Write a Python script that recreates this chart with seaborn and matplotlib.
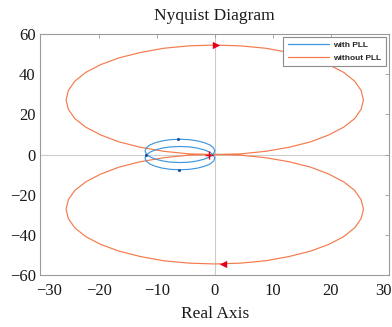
import numpy as np
import pandas as pd
import matplotlib
matplotlib.use("Agg")
import matplotlib.pyplot as plt
from matplotlib.lines import Line2D
from matplotlib.transforms import ScaledTranslation
import seaborn as sns

# ---- data ----
# "without PLL": upper loop (origin -> left -> top -> right -> origin)
orange_up_re = [0.7, 0.0, -4.4, -8.8, -12.8, -16.5, -19.6, -22.2, -24.1, -25.2, -25.6, -25.2, -24.1,
                -22.2, -19.6, -16.5, -12.8, -8.8, -4.4, 0.0, 4.4, 8.8, 12.8, 16.5, 19.6, 22.2,
                24.1, 25.2, 25.6, 25.2, 24.1, 22.2, 19.6, 16.5, 12.8, 8.8, 4.4, 0.0]
orange_up_im = [0.0, 0.0, 0.3, 1.6, 3.6, 6.3, 9.7, 13.6, 17.9, 22.5, 27.2, 31.9, 36.5,
                40.9, 44.8, 48.1, 50.8, 52.9, 54.1, 54.5, 54.1, 52.9, 50.8, 48.1, 44.8, 40.9,
                36.5, 31.9, 27.2, 22.5, 17.9, 13.6, 9.7, 6.3, 3.6, 1.6, 0.3, 0.0]
# "without PLL": lower loop (origin -> right -> bottom -> left -> origin)
orange_lo_re = [0.0, 4.4, 8.8, 12.8, 16.5, 19.6, 22.2, 24.1, 25.2, 25.6, 25.2, 24.1,
                22.2, 19.6, 16.5, 12.8, 8.8, 4.4, 0.0, -4.4, -8.8, -12.8, -16.5, -19.6, -22.2,
                -24.1, -25.2, -25.6, -25.2, -24.1, -22.2, -19.6, -16.5, -12.8, -8.8, -4.4, 0.0, 0.7]
orange_lo_im = [0.0, -0.3, -1.6, -3.6, -6.3, -9.7, -13.6, -17.9, -22.5, -27.2, -31.9, -36.5,
                -40.9, -44.8, -48.1, -50.8, -52.9, -54.1, -54.5, -54.1, -52.9, -50.8, -48.1, -44.8, -40.9,
                -36.5, -31.9, -27.2, -22.5, -17.9, -13.6, -9.7, -6.3, -3.6, -1.6, -0.3, 0.0, 0.0]

# "with PLL": two small loops
blue_up_re = [0.0, -0.2, -0.8, -1.8, -3.0, -4.4, -6.0, -7.6, -9.0, -10.2, -11.2, -11.8, -12.0,
              -11.8, -11.2, -10.2, -9.0, -7.6, -6.0, -4.4, -3.0, -1.8, -0.8, -0.2, 0.0]
blue_up_im = [1.8, 3.3, 4.7, 5.9, 6.8, 7.4, 7.6, 7.4, 6.8, 5.9, 4.7, 3.3, 1.8,
              0.3, -1.1, -2.3, -3.2, -3.8, -4.0, -3.8, -3.2, -2.3, -1.1, 0.3, 1.8]
blue_lo_re = [0.0, -0.2, -0.8, -1.8, -3.0, -4.4, -6.0, -7.6, -9.0, -10.2, -11.2, -11.8, -12.0,
              -11.8, -11.2, -10.2, -9.0, -7.6, -6.0, -4.4, -3.0, -1.8, -0.8, -0.2, 0.0]
blue_lo_im = [-1.8, -3.3, -4.7, -5.9, -6.8, -7.4, -7.6, -7.4, -6.8, -5.9, -4.7, -3.3, -1.8,
              -0.3, 1.1, 2.3, 3.2, 3.8, 4.0, 3.8, 3.2, 2.3, 1.1, -0.3, -1.8]

blue_arrow_re = [-6.3, -6.1, -11.9]
blue_arrow_im = [7.6, -7.8, 0.0]
orange_arrow_re = [0.3, 1.5]
orange_arrow_im = [54.5, -54.5]
critical_re = [-1.0]
critical_im = [0.0]

x_ticks = [-30, -20, -10, 0, 10, 20, 30]
y_ticks = [-60, -40, -20, 0, 20, 40, 60]
series_names = ["with PLL", "without PLL"]

BLUE = "#4096dc"
ORANGE = "#f47a4c"
RED = "#e3001b"

# ---- figure ----
sns.set_theme(style="white")
plt.rcParams["font.family"] = ["Liberation Serif", "DejaVu Serif"]
plt.rcParams["axes.unicode_minus"] = True

fig = plt.figure(figsize=(3.92, 3.27), dpi=100)
ax = fig.add_axes([0.1033, 0.159, 0.889, 0.737])

ax.axhline(0, color="#cccccc", lw=0.8, zorder=0)
ax.axvline(0, color="#cccccc", lw=0.8, zorder=0)

blue_df = pd.DataFrame({
    "re": blue_up_re + blue_lo_re,
    "im": blue_up_im + blue_lo_im,
    "loop": [0] * len(blue_up_re) + [1] * len(blue_lo_re),
})
orange_df = pd.DataFrame({"re": orange_up_re + orange_lo_re,
                          "im": orange_up_im + orange_lo_im})

sns.lineplot(data=orange_df, x="re", y="im", sort=False, estimator=None,
             color=ORANGE, lw=0.85, ax=ax, legend=False)
sns.lineplot(data=blue_df, x="re", y="im", units="loop", sort=False, estimator=None,
             color=BLUE, lw=0.85, ax=ax, legend=False)

sns.scatterplot(x=blue_arrow_re, y=blue_arrow_im, color="#1d4f9e", s=5,
                linewidth=0, ax=ax, zorder=5)
sns.scatterplot(x=orange_arrow_re[:1], y=orange_arrow_im[:1], marker=">", color=RED,
                s=28, linewidth=0, ax=ax, zorder=5)
sns.scatterplot(x=orange_arrow_re[1:], y=orange_arrow_im[1:], marker="<", color=RED,
                s=28, linewidth=0, ax=ax, zorder=5)
sns.scatterplot(x=critical_re, y=critical_im, marker="+", color=RED,
                s=28, linewidth=1.0, ax=ax, zorder=6)

ax.set_xlim(-30, 30)
ax.set_ylim(-60, 60)
ax.set_xticks(x_ticks)
ax.set_yticks(y_ticks)
ax.tick_params(axis="both", direction="in", length=3, width=0.6, color="#999999",
               labelcolor="#1a1a1a", top=True, right=True, labelsize=12)
ax.tick_params(axis="x", pad=6)
ax.tick_params(axis="y", pad=3.5)
for s in ax.spines.values():
    s.set_color("#9a9a9a")
    s.set_linewidth(0.8)

# end labels sit slightly inward in the reference
xl = ax.get_xticklabels()
xl[0].set_transform(xl[0].get_transform() + ScaledTranslation(9 / 100, 0, fig.dpi_scale_trans))
xl[-1].set_transform(xl[-1].get_transform() + ScaledTranslation(-6 / 100, 0, fig.dpi_scale_trans))

ax.set_title("Nyquist Diagram", fontsize=12.5, color="#1a1a1a", pad=10)
ax.set_xlabel("Real Axis", fontsize=12.5, color="#1a1a1a", labelpad=5)
ax.set_ylabel("")

handles = [Line2D([], [], color=BLUE, lw=0.9), Line2D([], [], color=ORANGE, lw=0.9)]
leg = ax.legend(handles, series_names, loc="upper right",
                prop={"family": "Liberation Sans", "size": 6, "weight": "bold"},
                frameon=True, fancybox=False, framealpha=1, edgecolor="#8c8c8c",
                handlelength=5.0, handletextpad=0.5, borderpad=0.55,
                labelspacing=0.55, borderaxespad=0.35)
leg.get_frame().set_linewidth(0.8)

fig.savefig("out.png", dpi=100)
